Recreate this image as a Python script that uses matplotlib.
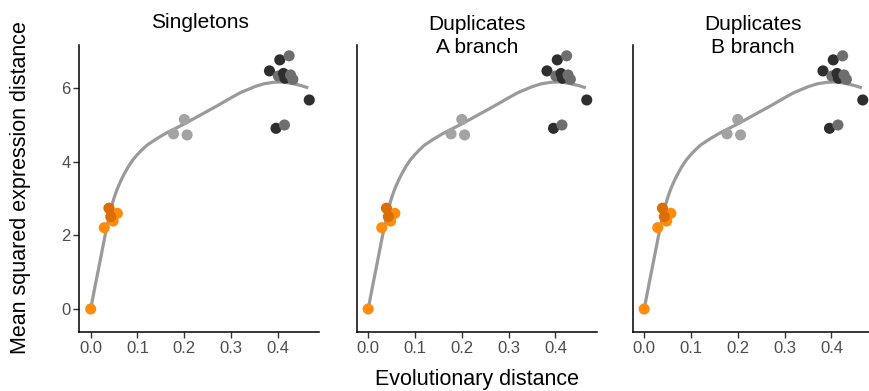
import matplotlib
matplotlib.use("Agg")
import matplotlib.pyplot as plt

plt.rcParams['font.family'] = ['Liberation Sans', 'DejaVu Sans']

# ---- data ----
panel_titles = ["Singletons", "Duplicates\nA branch", "Duplicates\nB branch"]
x_label = "Evolutionary distance"
y_label = "Mean squared expression distance"

x_ticks = [0.0, 0.1, 0.2, 0.3, 0.4]
x_tick_labels = ["0.0", "0.1", "0.2", "0.3", "0.4"]
y_ticks = [0, 2, 4, 6]
y_tick_labels = ["0", "2", "4", "6"]

evol_dist = [0.000, 0.029, 0.048, 0.057, 0.043, 0.039,
             0.177, 0.200, 0.206,
             0.382, 0.404, 0.424, 0.401, 0.412, 0.415, 0.427, 0.432,
             0.467, 0.396, 0.414]
expr_dist = [0.00, 2.21, 2.39, 2.60, 2.51, 2.74,
             4.76, 5.15, 4.73,
             6.47, 6.77, 6.88, 6.33, 6.40, 6.27, 6.36, 6.24,
             5.68, 4.91, 5.00]
point_group = ["orange", "orange", "orange", "orange", "dark orange", "dark orange",
               "light gray", "light gray", "light gray",
               "dark gray", "dark gray", "mid gray", "mid gray", "dark gray", "dark gray",
               "mid gray", "mid gray", "dark gray", "dark gray", "mid gray"]

fit_x = [0.0, 0.01, 0.02, 0.03, 0.04, 0.045, 0.05, 0.055, 0.06, 0.065, 0.07, 0.08,
         0.09, 0.10, 0.11, 0.12, 0.14, 0.16, 0.18, 0.20, 0.21, 0.23, 0.25, 0.27,
         0.30, 0.32, 0.35, 0.37, 0.39, 0.41, 0.43, 0.45, 0.465]
fit_y = [0.0, 0.66, 1.30, 1.95, 2.55, 2.80, 3.02, 3.20, 3.36, 3.50, 3.63, 3.86,
         4.05, 4.20, 4.33, 4.45, 4.62, 4.77, 4.90, 5.03, 5.10, 5.24, 5.38, 5.52,
         5.74, 5.88, 6.04, 6.12, 6.16, 6.17, 6.13, 6.07, 6.01]

group_colors = {"orange": "#FF8C0F", "dark orange": "#DB6E05",
                "light gray": "#A3A3A3", "mid gray": "#6E6E6E", "dark gray": "#2E2E2E"}

# ---- figure ----
W, H = 870, 391
fig = plt.figure(figsize=(W / 100, H / 100), dpi=100)

lefts_px = [79.5, 357.0, 633.0]
ax_w_px = 240.0
top_px, bot_px = 45.0, 331.7

for i, left in enumerate(lefts_px):
    ax = fig.add_axes([left / W, 1 - bot_px / H, ax_w_px / W, (bot_px - top_px) / H])
    ax.plot(fit_x, fit_y, color="#9A9A9A", lw=2.3, solid_capstyle="butt",
            solid_joinstyle="round", zorder=1)
    ax.scatter(evol_dist, expr_dist, s=64,
               c=[group_colors[g] for g in point_group], linewidths=0, zorder=2)
    ax.set_xlim(-0.0239, 0.4889)
    ax.set_ylim(-0.617, 7.174)
    ax.set_xticks(x_ticks)
    ax.set_xticklabels(x_tick_labels)
    if i == 0:
        ax.set_yticks(y_ticks)
        ax.set_yticklabels(y_tick_labels)
    else:
        ax.set_yticks([])
    for s in ("top", "right"):
        ax.spines[s].set_visible(False)
    for s in ("left", "bottom"):
        ax.spines[s].set_linewidth(1.1)
        ax.spines[s].set_color("black")
    ax.tick_params(axis="both", length=4, width=1.0, color="#333333",
                   labelsize=12, labelcolor="#4D4D4D", pad=2.5)
    ax.set_facecolor("none")
    cx = (left + ax_w_px / 2) / W
    if i == 0:
        fig.text(cx, 1 - 28 / H, panel_titles[i], ha="center", va="baseline",
                 fontsize=15, color="black")
    else:
        fig.text(cx, 1 - 53.3 / H, panel_titles[i], ha="center", va="baseline",
                 fontsize=15, color="black", linespacing=1.32)

fig.text(21 / W, 1 - 188 / H, y_label, rotation=90, ha="center", va="center",
         fontsize=15.5, color="black")
fig.text(477 / W, 1 - 385 / H, x_label, ha="center", va="baseline",
         fontsize=15.5, color="black")

fig.savefig("out.png", dpi=100)
